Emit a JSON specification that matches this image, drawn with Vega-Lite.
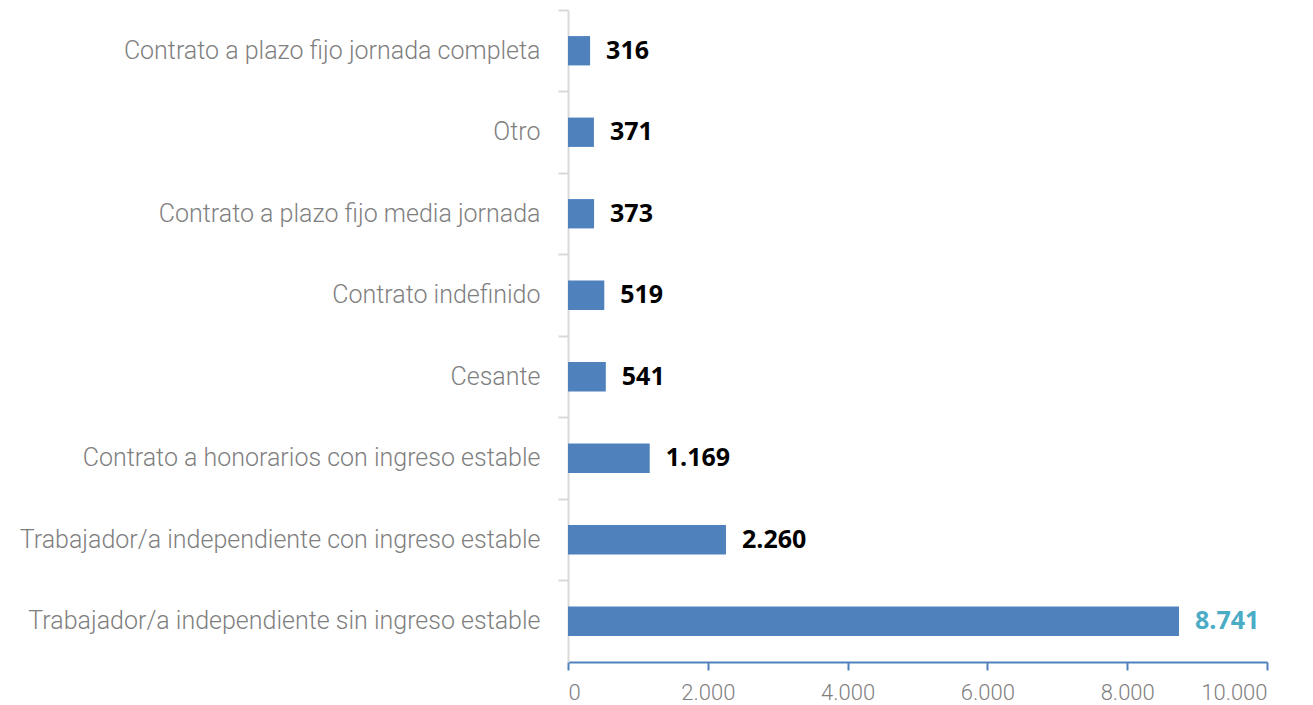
{
  "$schema": "https://vega.github.io/schema/vega-lite/v6.json",
  "width": 699,
  "height": 652,
  "autosize": "none",
  "padding": {"left": 568, "top": 10, "right": 46, "bottom": 43},
  "background": "white",
  "config": {
    "view": {"stroke": null},
    "locale": {"number": {"decimal": ",", "thousands": ".", "grouping": [3], "currency": ["$", ""]}}
  },
  "data": {
    "values": [
      {"categoria": "Contrato a plazo fijo jornada completa", "valor": 316},
      {"categoria": "Otro", "valor": 371},
      {"categoria": "Contrato a plazo fijo media jornada", "valor": 373},
      {"categoria": "Contrato indefinido", "valor": 519},
      {"categoria": "Cesante", "valor": 541},
      {"categoria": "Contrato a honorarios con ingreso estable", "valor": 1169},
      {"categoria": "Trabajador/a independiente con ingreso estable", "valor": 2260},
      {"categoria": "Trabajador/a independiente sin ingreso estable", "valor": 8741}
    ]
  },
  "encoding": {
    "y": {
      "field": "categoria",
      "type": "nominal",
      "sort": null,
      "scale": {"paddingInner": 0, "paddingOuter": 0},
      "axis": {
        "title": null,
        "domainColor": "#d9d9d9",
        "domainWidth": 2,
        "tickColor": "#d9d9d9",
        "tickWidth": 2,
        "tickSize": 10,
        "bandPosition": 0,
        "labelPadding": 18,
        "labelFont": "Roboto",
        "labelFontSize": 25,
        "labelFontWeight": 300,
        "labelColor": "#7f7f7f",
        "labelLimit": 700
      }
    },
    "x": {
      "field": "valor",
      "type": "quantitative",
      "scale": {"domain": [0, 10000], "nice": false},
      "axis": {
        "title": null,
        "values": [0, 2000, 4000, 6000, 8000, 10000],
        "format": ",d",
        "grid": false,
        "domainColor": "#4f81bd",
        "domainWidth": 2,
        "tickColor": "#4f81bd",
        "tickWidth": 2,
        "tickSize": 8,
        "labelPadding": 12,
        "labelFont": "Roboto",
        "labelFontSize": 22,
        "labelFontWeight": 300,
        "labelColor": "#7f7f7f"
      }
    }
  },
  "layer": [
    {
      "mark": {"type": "bar", "color": "#4f81bd", "height": {"band": 0.36}}
    },
    {
      "mark": {
        "type": "text",
        "align": "left",
        "baseline": "middle",
        "dx": 16,
        "font": "Open Sans",
        "fontSize": 25,
        "fontWeight": "bold"
      },
      "encoding": {
        "text": {"field": "valor", "type": "quantitative", "format": ",d"},
        "color": {
          "condition": {"test": "datum.valor > 5000", "value": "#4bacc6"},
          "value": "#000000"
        }
      }
    }
  ]
}
